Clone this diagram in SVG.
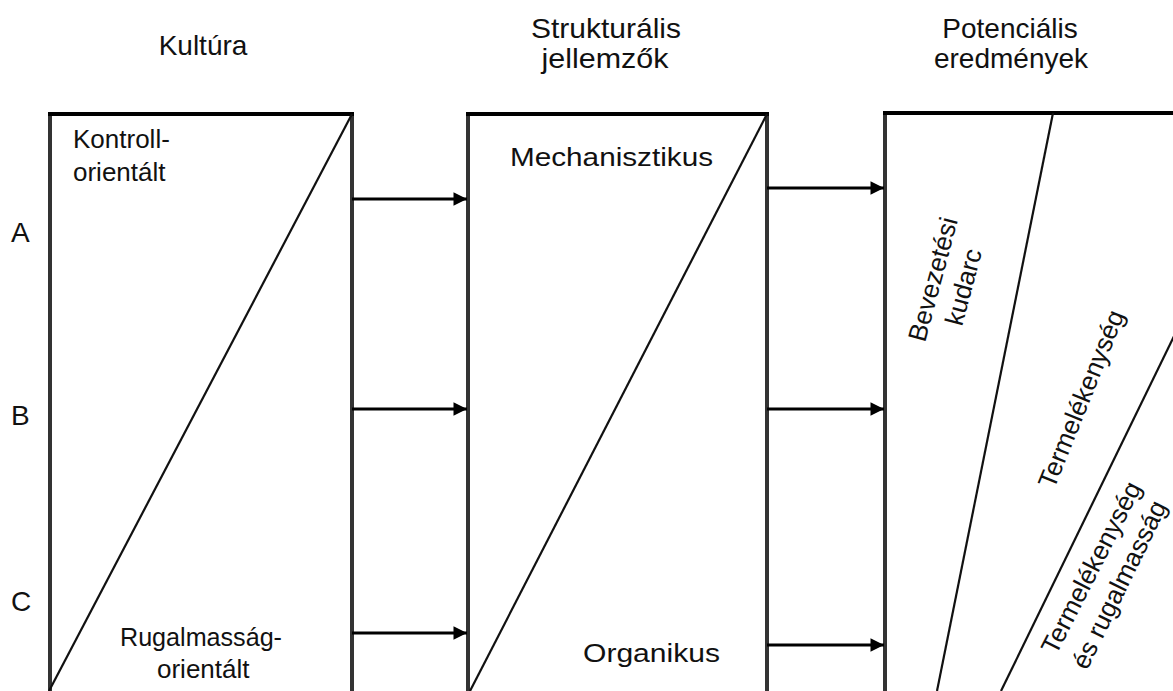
<svg xmlns="http://www.w3.org/2000/svg" width="1173" height="691" viewBox="0 0 1173 691">
<style>
text{font-family:"Liberation Sans",Arial,sans-serif;font-size:28px;fill:#111}
.hd{text-anchor:middle}
.bx{font-size:26px}
.side{stroke:#333;stroke-width:4;fill:none}
.top{stroke:#000;stroke-width:4;fill:none}
.diag{stroke:#111;stroke-width:2.2;fill:none}
.arr{stroke:#000;stroke-width:3;fill:none;marker-end:url(#ah)}
.rot{font-size:26px}
</style>
<defs>
<marker id="ah" viewBox="0 0 10 10" refX="10" refY="5" markerWidth="6" markerHeight="4.5" markerUnits="strokeWidth" orient="auto">
<path d="M0,0 L10,5 L0,10 z" fill="#000"/>
</marker>
</defs>
<rect width="1173" height="691" fill="#fff"/>

<g id="headers">
<text class="hd" x="203" y="55">Kultúra</text>
<text class="hd" x="606" y="38" textLength="150" lengthAdjust="spacingAndGlyphs">Strukturális</text>
<text class="hd" x="605" y="68" textLength="127" lengthAdjust="spacingAndGlyphs">jellemzők</text>
<text class="hd" x="1010" y="38">Potenciális</text>
<text class="hd" x="1011" y="68">eredmények</text>
</g>

<g id="rows">
<text x="11" y="242">A</text>
<text x="11" y="425">B</text>
<text x="11" y="611">C</text>
</g>

<g id="kultura">
<line class="side" x1="50" y1="112" x2="50" y2="691"/>
<line class="side" x1="352" y1="112" x2="352" y2="691"/>
<line class="top" x1="48" y1="114" x2="354" y2="114"/>
<line class="diag" x1="352" y1="114" x2="49" y2="691"/>
<text class="bx" x="73" y="148">Kontroll-</text>
<text class="bx" x="73" y="181">orientált</text>
<text class="bx" x="120" y="646" textLength="162" lengthAdjust="spacingAndGlyphs">Rugalmasság-</text>
<text class="bx" x="157" y="678">orientált</text>
</g>

<g id="strukturalis">
<line class="side" x1="468" y1="112" x2="468" y2="691"/>
<line class="side" x1="767" y1="112" x2="767" y2="691"/>
<line class="top" x1="466" y1="114" x2="769" y2="114"/>
<line class="diag" x1="767" y1="114" x2="470" y2="691"/>
<text class="bx" x="510" y="166" textLength="203" lengthAdjust="spacingAndGlyphs">Mechanisztikus</text>
<text class="bx" x="583" y="662" textLength="137" lengthAdjust="spacingAndGlyphs">Organikus</text>
</g>

<g id="eredmenyek">
<line class="side" x1="885" y1="112" x2="885" y2="691"/>
<line class="top" x1="883" y1="113" x2="1173" y2="113"/>
<line class="diag" x1="1053" y1="113" x2="937" y2="691"/>
<line class="diag" x1="1179" y1="326" x2="1001" y2="691"/>
<text class="rot" transform="translate(925,343) rotate(-75)">Bevezetési</text>
<text class="rot" transform="translate(962,327) rotate(-75)">kudarc</text>
<text class="rot" font-size="28" transform="translate(1054,490) rotate(-68)">Termelékenység</text>
<text class="rot" transform="translate(1056,656) rotate(-63)">Termelékenység</text>
<text class="rot" font-size="25" transform="translate(1087,671) rotate(-64)">és rugalmasság</text>
</g>

<g id="connectors">
<line class="arr" x1="352" y1="199" x2="467" y2="199"/>
<line class="arr" x1="352" y1="409" x2="467" y2="409"/>
<line class="arr" x1="352" y1="633" x2="467" y2="633"/>
<line class="arr" x1="767" y1="188" x2="884" y2="188"/>
<line class="arr" x1="767" y1="409" x2="884" y2="409"/>
<line class="arr" x1="767" y1="645" x2="884" y2="645"/>
</g>
</svg>
